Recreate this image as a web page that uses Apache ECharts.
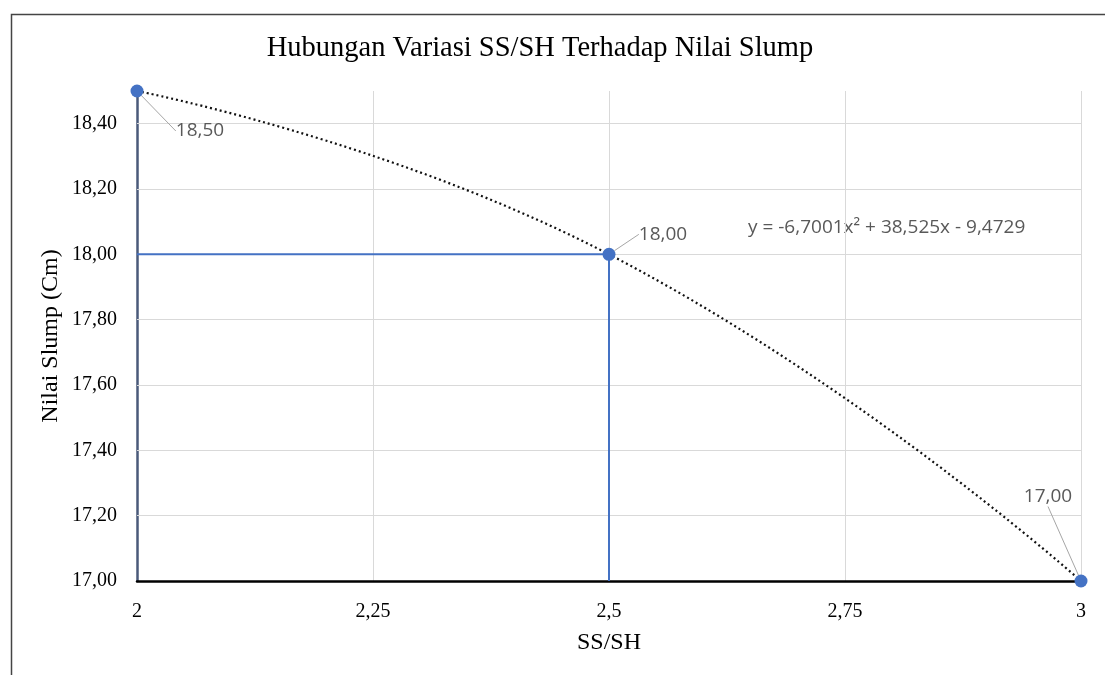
<!DOCTYPE html>
<html>
<head>
<meta charset="utf-8">
<script src="https://cdn.jsdelivr.net/npm/echarts@6/dist/echarts.min.js"></script>
<style>html,body{margin:0;padding:0;background:#fff}#c{width:1105px;height:675px}</style>
</head>
<body>
<div id="c"></div>
<script>
var xValues = [2, 2.5, 3];
var slumpValues = [18.5, 18.0, 17.0];
var xTickValues = [2, 2.25, 2.5, 2.75, 3];
var xTickLabels = ['2', '2,25', '2,5', '2,75', '3'];
var yTickValues = [17.0, 17.2, 17.4, 17.6, 17.8, 18.0, 18.2, 18.4];
var yTickLabels = ['17,00', '17,20', '17,40', '17,60', '17,80', '18,00', '18,20', '18,40'];
var pointLabels = ['18,50', '18,00', '17,00'];
var equationText = 'y = -6,7001x² + 38,525x - 9,4729';
var titleText = 'Hubungan Variasi SS/SH Terhadap Nilai Slump';
var xName = 'SS/SH';
var yName = 'Nilai Slump (Cm)';

var pts = xValues.map(function (x, i) { return [x, slumpValues[i]]; });
var hi = 1; // highlighted point (2.5, 18)
var guide = [[xValues[0], slumpValues[hi]], [xValues[hi], slumpValues[hi]], [xValues[hi], yTickValues[0]]];
var labelOffsets = [[63, 40], [54, -20], [-33, -84]];

var serif = '"Liberation Serif", "DejaVu Serif", serif';
var sans = '"Open Sans", "Liberation Sans", sans-serif';

function findLabel(vals, labs, v) {
  for (var i = 0; i < vals.length; i++) if (Math.abs(vals[i] - v) < 1e-6) return labs[i];
  return '';
}

var chart = echarts.init(document.getElementById('c'), null, { renderer: 'canvas' });
chart.setOption({
  animation: false,
  backgroundColor: '#fff',
  title: {
    text: titleText,
    left: 535, top: 29, textAlign: 'center',
    textStyle: { fontFamily: serif, fontWeight: 'normal', fontSize: 28.5, color: '#000' }
  },
  graphic: [
    { type: 'rect', left: 9, top: 12, shape: { width: 1200, height: 800 }, style: { fill: 'none', stroke: '#444', lineWidth: 1.5 }, silent: true, z: -1 },
    { type: 'text', left: 748, top: 218, style: { text: equationText, fontFamily: sans, fontSize: 19, fill: '#595959' } }
  ],
  grid: { left: 137, right: 24, top: 91, bottom: 94, containLabel: false },
  xAxis: {
    type: 'value', min: 2, max: 3, interval: 0.25,
    name: xName, nameLocation: 'middle', nameGap: 50, nameMoveOverlap: false,
    nameTextStyle: { fontFamily: serif, fontSize: 24, color: '#000' },
    axisLine: { show: true, lineStyle: { color: '#000', width: 2.5 } },
    axisTick: { show: false },
    axisLabel: {
      margin: 21, fontFamily: serif, fontSize: 20, color: '#000',
      formatter: function (v) { return findLabel(xTickValues, xTickLabels, v); }
    },
    splitLine: { show: true, lineStyle: { color: '#d9d9d9', width: 1 } }
  },
  yAxis: {
    type: 'value', min: 17, max: 18.5, interval: 0.2,
    name: yName, nameLocation: 'middle', nameGap: 74, nameRotate: 90, nameMoveOverlap: false,
    nameTextStyle: { fontFamily: serif, fontSize: 24, color: '#000' },
    axisLine: { show: true, lineStyle: { color: '#4a5a7a', width: 2.5 } },
    axisTick: { show: false },
    axisLabel: {
      margin: 20, fontFamily: serif, fontSize: 20, color: '#000', showMaxLabel: false,
      formatter: function (v) { return findLabel(yTickValues, yTickLabels, v); }
    },
    splitLine: { show: false }
  },
  series: [
    {
      type: 'line', data: guide, symbol: 'none', silent: true, z: 3,
      lineStyle: { color: '#4472C4', width: 2 },
      markLine: {
        silent: true, symbol: 'none', label: { show: false },
        lineStyle: { color: '#d9d9d9', width: 1, type: 'solid' },
        data: yTickValues.slice(1).map(function (v) { return { yAxis: v }; }),
        z: 1
      }
    },
    {
      type: 'line', data: pts, smooth: true, symbol: 'none', silent: true, z: 4,
      lineStyle: { color: '#111', width: 2.2, type: [2, 3] }
    },
    {
      type: 'scatter', data: pts, symbol: 'circle', symbolSize: 13, clip: false, z: 5,
      itemStyle: { color: '#4472C4', opacity: 1 },
      label: {
        show: true, position: 'inside',
        formatter: function (p) { return pointLabels[p.dataIndex]; },
        fontFamily: sans, fontSize: 19, color: '#595959'
      },
      labelLine: { show: true, lineStyle: { color: '#a6a6a6', width: 1 } },
      labelLayout: function (p) {
        var o = labelOffsets[p.dataIndex];
        return { dx: o[0], dy: o[1] };
      }
    }
  ]
});
</script>
</body>
</html>
